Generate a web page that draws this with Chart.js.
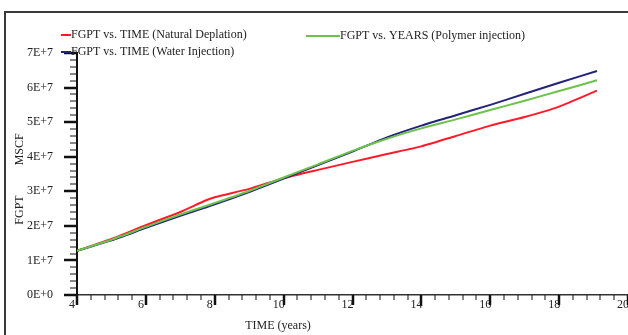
<!DOCTYPE html>
<html>
<head>
<meta charset="utf-8">
<script src="https://cdn.jsdelivr.net/npm/chart.js@4.4.1/dist/chart.umd.min.js"></script>
<style>
  body { margin: 0; background: #fff; }
  #wrap { width: 628px; height: 335px; position: relative; }
</style>
</head>
<body>
<div id="wrap"><canvas id="fgptChart"></canvas></div>
<script>
// --- FGPT vs TIME ---
const timeYears = [4, 5, 6, 7, 7.7, 8, 9, 10, 11, 12, 13, 14, 15, 16, 17, 18, 19.1];
const naturalDepletion = [1.28e7, 1.62e7, 2.02e7, 2.40e7, 2.72e7, 2.83e7, 3.07e7, 3.38e7, 3.62e7, 3.85e7, 4.08e7, 4.30e7, 4.60e7, 4.90e7, 5.15e7, 5.45e7, 5.91e7];
const waterInjection = [1.28e7, 1.58e7, 1.94e7, 2.29e7, 2.52e7, 2.62e7, 2.98e7, 3.37e7, 3.76e7, 4.15e7, 4.56e7, 4.90e7, 5.20e7, 5.50e7, 5.82e7, 6.14e7, 6.48e7];
const polymerInjection = [1.28e7, 1.60e7, 1.97e7, 2.33e7, 2.56e7, 2.66e7, 3.01e7, 3.40e7, 3.78e7, 4.17e7, 4.52e7, 4.82e7, 5.08e7, 5.35e7, 5.62e7, 5.90e7, 6.21e7];
const seriesLabels = ['FGPT vs. TIME (Natural Deplation)', 'FGPT vs. TIME (Water Injection)', 'FGPT vs. YEARS (Polymer injection)'];
const yTickValues = [0, 1e7, 2e7, 3e7, 4e7, 5e7, 6e7, 7e7];
const xTickValues = [4, 6, 8, 10, 12, 14, 16, 18, 20];

const FONT = '"Liberation Serif", "Times New Roman", serif';
const RED = '#ff1a2a', NAVY = '#23237a', GREEN = '#6cc24a';

function toPoints(xs, ys) {
    return xs.map((x, i) => ({ x: x, y: ys[i] }));
}

const decor = {
    id: 'decor',
    beforeDraw(chart) {
        const c = chart.ctx;
        c.save();
        c.fillStyle = '#fff';
        c.fillRect(0, 0, chart.width, chart.height);
        c.strokeStyle = '#3a3a3a';
        c.lineWidth = 2;
        c.strokeRect(5, 12, chart.width + 20, chart.height + 20);
        c.restore();
    },
    afterDraw(chart) {
        const c = chart.ctx;
        const xs = chart.scales.x, ys = chart.scales.y;
        const area = chart.chartArea;
        c.save();
        c.strokeStyle = '#111';
        // y ticks (minor every 2E6, major every 1E7)
        for (let v = 0; v <= 7e7 + 1; v += 2e6) {
            const py = Math.round(ys.getPixelForValue(v));
            const major = v % 1e7 === 0;
            c.lineWidth = major ? 2.5 : 1;
            c.beginPath();
            c.moveTo(area.left - (major ? 13 : 7), py);
            c.lineTo(area.left, py);
            c.stroke();
        }
        // x ticks (minor every 0.4, major every 2)
        for (let i = 0; i <= 40; i++) {
            const t = 4 + i * 0.4;
            const px = Math.round(xs.getPixelForValue(t));
            const major = i % 5 === 0;
            c.lineWidth = major ? 2.5 : 1;
            c.beginPath();
            c.moveTo(px, area.bottom);
            c.lineTo(px, area.bottom + (major ? 10 : 5));
            c.stroke();
        }
        // axis titles
        c.fillStyle = '#222';
        c.font = '12px ' + FONT;
        c.textAlign = 'center';
        c.textBaseline = 'middle';
        c.fillText('TIME (years)', 278, 326);
        c.save();
        c.translate(20, 179);
        c.rotate(-Math.PI / 2);
        c.fillText('FGPT          MSCF', 0, 0);
        c.restore();
        // legend
        const items = [
            { x: 61, y: 35, w: 10, color: RED, text: seriesLabels[0] },
            { x: 61, y: 52, w: 10, color: NAVY, text: seriesLabels[1] },
            { x: 306, y: 36, w: 34, color: GREEN, text: seriesLabels[2] }
        ];
        c.textAlign = 'left';
        items.forEach(it => {
            c.strokeStyle = it.color;
            c.lineWidth = 2;
            c.beginPath();
            c.moveTo(it.x, it.y);
            c.lineTo(it.x + it.w, it.y);
            c.stroke();
            c.fillStyle = '#222';
            c.fillText(it.text, it.x + it.w, it.y);
        });
        c.restore();
    }
};

const ctx = document.getElementById('fgptChart').getContext('2d');
Chart.defaults.font.family = FONT;
Chart.defaults.font.size = 12;
Chart.defaults.color = '#222';

new Chart(ctx, {
    type: 'line',
    data: {
        datasets: [
            { label: seriesLabels[0], data: toPoints(timeYears, naturalDepletion), borderColor: RED, borderWidth: 2, pointRadius: 0, tension: 0.2, order: 2 },
            { label: seriesLabels[1], data: toPoints(timeYears, waterInjection), borderColor: NAVY, borderWidth: 2, pointRadius: 0, tension: 0.2, order: 1 },
            { label: seriesLabels[2], data: toPoints(timeYears, polymerInjection), borderColor: GREEN, borderWidth: 2, pointRadius: 0, tension: 0.2, order: 0 }
        ]
    },
    options: {
        responsive: true,
        maintainAspectRatio: false,
        animation: false,
        events: [],
        layout: { padding: { top: 53, left: 0, right: 0, bottom: 0 } },
        plugins: { legend: { display: false }, tooltip: { enabled: false } },
        scales: {
            x: {
                type: 'linear',
                min: 4, max: 20,
                afterBuildTicks: s => { s.ticks = xTickValues.map(v => ({ value: v })); },
                afterFit: s => { s.height = 40; s.paddingRight = 0; s.paddingLeft = 0; },
                grid: { display: false, drawTicks: false },
                border: { display: true, color: '#333', width: 1.5 },
                ticks: { padding: 3, labelOffset: -5, maxRotation: 0, color: '#222' }
            },
            y: {
                min: 0, max: 7e7,
                afterBuildTicks: s => { s.ticks = yTickValues.map(v => ({ value: v })); },
                afterFit: s => { s.width = 77; },
                grid: { display: false, drawTicks: false },
                border: { display: true, color: '#111', width: 2 },
                ticks: {
                    padding: 24,
                    color: '#222',
                    callback: v => v === 0 ? '0E+0' : (v / 1e7) + 'E+7'
                }
            }
        }
    },
    plugins: [decor]
});
</script>
</body>
</html>
